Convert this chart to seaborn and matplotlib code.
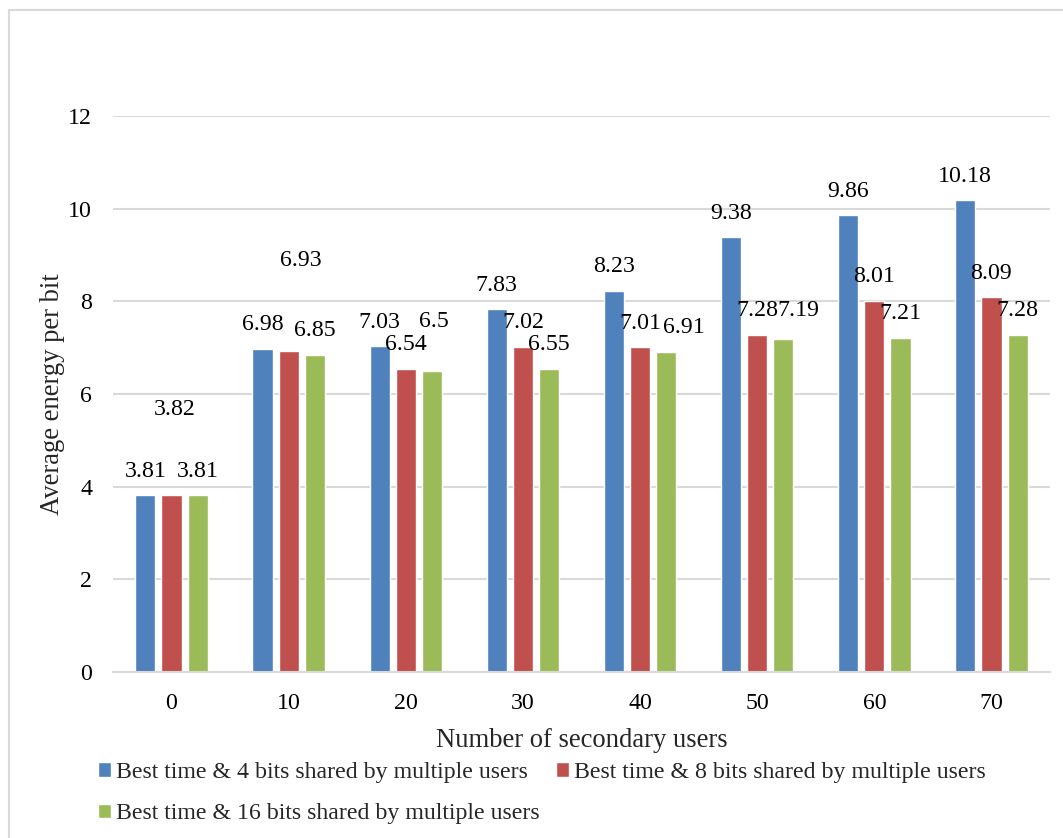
import matplotlib
matplotlib.use("Agg")
import matplotlib.pyplot as plt
from matplotlib.patches import Rectangle
import pandas as pd
import seaborn as sns

# Data
users = ["0", "10", "20", "30", "40", "50", "60", "70"]
series_names = [
    "Best time & 4 bits shared by multiple users",
    "Best time & 8 bits shared by multiple users",
    "Best time & 16 bits shared by multiple users",
]
energy_4bits = [3.81, 6.98, 7.03, 7.83, 8.23, 9.38, 9.86, 10.18]
energy_8bits = [3.82, 6.93, 6.54, 7.02, 7.01, 7.28, 8.01, 8.09]
energy_16bits = [3.81, 6.85, 6.50, 6.55, 6.91, 7.19, 7.21, 7.28]

colors = ["#4F81BD", "#C0504D", "#9BBB59"]

df = pd.DataFrame({
    "users": users * 3,
    "energy": energy_4bits + energy_8bits + energy_16bits,
    "series": sum([[s] * len(users) for s in series_names], []),
})

sns.set_theme(style="white")
plt.rcParams["font.family"] = ["Liberation Serif", "DejaVu Serif"]
FS = 17.2
FS_TITLE = 19.2

DPI = 100
fig = plt.figure(figsize=(10.63, 8.38), dpi=DPI)
ax = fig.add_axes([113 / 1063, 1 - 672 / 838, (1050 - 113) / 1063, (672 - 116) / 838])

sns.barplot(data=df, x="users", y="energy", hue="series", hue_order=series_names,
            palette=colors, width=0.67, gap=0.23, saturation=1, ax=ax,
            legend=True, errorbar=None)

ax.set_ylim(0, 12)
ax.set_yticks(range(0, 13, 2))
ax.set_xlim(-0.5, len(users) - 0.5)
ax.yaxis.grid(True, color="#d9d9d9", linewidth=1.5)
ax.set_axisbelow(True)
for side in ["left", "right", "top"]:
    ax.spines[side].set_visible(False)
ax.spines["bottom"].set_color("#d9d9d9")
ax.spines["bottom"].set_linewidth(1.5)
ax.tick_params(axis="both", length=0, labelsize=FS, colors="black")
ax.tick_params(axis="y", pad=15)
ax.tick_params(axis="x", pad=15)
ax.set_xlabel("Number of secondary users", fontsize=FS_TITLE, labelpad=10)
ax.set_ylabel("Average energy per bit", fontsize=FS_TITLE, labelpad=2)

# Value labels: default sits above each bar; a few are nudged (px) to avoid overlap
px = 72.0 / DPI
nudges = {
    (1, 0): (3, 62),
    (1, 1): (12, 66),
    (2, 2): (2, 25),
    (2, 4): (18, 0),
    (2, 5): (15, 4),
}
all_values = [energy_4bits, energy_8bits, energy_16bits]
for si, cont in enumerate(ax.containers):
    for ci, bar in enumerate(cont):
        v = all_values[si][ci]
        dx, dy = nudges.get((si, ci), (0, 0))
        ax.annotate(f"{v:g}", (bar.get_x() + bar.get_width() / 2, v),
                    xytext=(dx * px, (24 + dy) * px), textcoords="offset points",
                    ha="center", va="center", fontsize=FS, color="black")

# Legend below the plot, filled row by row
handles, labels = ax.get_legend_handles_labels()
ax.get_legend().remove()
order = [0, 2, 1]
fig.legend([handles[i] for i in order], [labels[i] for i in order],
           loc="upper left", ncol=2, frameon=False,
           bbox_to_anchor=(98 / 1063, 1 - 762 / 838), fontsize=FS,
           handlelength=0.54, handleheight=0.54, handletextpad=0.2,
           columnspacing=0.7, labelspacing=0.85, borderpad=0, borderaxespad=0)

# Chart area border
fig.patches.append(Rectangle((9 / 1063, -0.1), 1.2, 1 - 10 / 838 + 0.1,
                             transform=fig.transFigure, fill=False,
                             edgecolor="#d9d9d9", linewidth=1.5))

fig.savefig("out.png", dpi=DPI)
